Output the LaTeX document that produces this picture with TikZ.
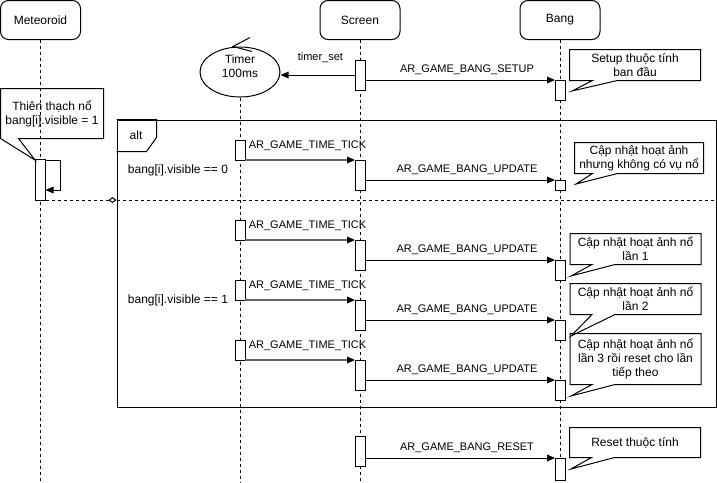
\documentclass[tikz,border=0pt]{standalone}
\usepackage{fontspec}
\setmainfont{Liberation Sans}
\usetikzlibrary{arrows.meta,calc,shapes.geometric}
\newcommand{\notepath}[4]{%
  \draw (#1.south west) -- (#1.north west) -- (#1.north east) -- (#1.south east)
    -- ($(#1.south west)+(#4,0)$) -- (#2) -- ($(#1.south west)+(#3,0)$) -- cycle;}
\begin{document}
\begin{tikzpicture}[x=0.75pt,y=-0.75pt,line width=0.75pt,
  txt/.style={font=\fontsize{9}{10.5}\selectfont},
  etxt/.style={font=\fontsize{8.25}{10}\selectfont},
  head/.style={txt,draw,rounded corners=6pt,minimum width=60pt,minimum height=29.25pt,inner sep=0},
  act/.style={draw,fill=white,minimum width=7.5pt,minimum height={#1*0.75pt},inner sep=0,outer sep=0},
  life/.style={dash pattern=on 2.25pt off 2.25pt},
  msg/.style={-{Triangle[length=6pt,width=5pt]}},
  tick/.style={-{Triangle[length=6pt,width=5pt,color=black]},draw=black!60,line width=1.1pt},
  lbl/.style={txt,inner sep=1pt},
  elbl/.style={etxt,inner sep=1pt},
  note/.style={txt,align=center,inner sep=0,minimum width={#1*0.75pt}},
  notebox/.style={note=130}
]
\useasboundingbox (0,0) rectangle (717,482);
% heads
\node[head] (met) at (40.5,20) {Meteoroid};
\node[head] (scr) at (360,20) {Screen};
\node[head] (bang) at (560,20) {Bang};
\node[draw,ellipse,minimum width=60pt,minimum height=37.5pt,inner sep=0] (timer) at (240,72) {};
\node[lbl,align=center] (timerlbl) at (240,66) {Timer\\100ms};
\draw ($(timer.north)+(10,-9)$) -- ($(timer.north)+(-7,0)$) -- ($(timer.north)+(12,5)$);
% lifelines
\coordinate (bot) at (0,482);
\draw[life] (met.south) -- (met.south |- bot);
\draw[life] (scr.south) -- (scr.south |- bot);
\draw[life] (bang.south) -- (bang.south |- bot);
\draw[life] (timer.south) -- (timer.south |- bot);
% alt frame
\node[draw,minimum width={599*0.75pt},minimum height={287*0.75pt},inner sep=0] (alt) at (416.5,263.5) {};
\draw (alt.north west) -- ++(40,0) -- ++(0,18) -- ++(-10,14) -- ++(-30,0);
\node[lbl] (altlbl) at (136,135) {alt};
\node[lbl] (c0) at (178,170) {bang[i].visible == 0};
\node[lbl] (c1) at (178,300) {bang[i].visible == 1};
% activations
\node[act=41] (m0) at (40.5,179.5) {};
\node[act=30] (s0) at (360,75) {};
\node[act=20] (b0) at (560,90) {};
\node[act=20] (t1) at (240,150) {};
\node[act=30] (s1) at (360,175) {};
\node[act=10] (b1) at (560,185) {};
\node[act=20] (t2) at (240,230) {};
\node[act=30] (s2) at (360,255) {};
\node[act=20] (b2) at (560,270) {};
\node[act=20] (t3) at (240,290) {};
\node[act=30] (s3) at (360,315) {};
\node[act=20] (b3) at (560,330) {};
\node[act=20] (t4) at (240,350) {};
\node[act=30] (s4) at (360,375) {};
\node[act=20] (b4) at (560,390) {};
\node[act=30] (s5) at (360,451) {};
\node[act=22] (b5) at (560,469) {};
% divider and meteoroid link
\draw[dash pattern=on 2.25pt off 2.25pt] (alt.west |- m0.south) -- (alt.east |- m0.south);
\draw[dash pattern=on 2.25pt off 2.25pt,-{Diamond[open,length=6pt,width=4.5pt]}] (m0.south east) -- (alt.west |- m0.south east);
\draw[msg] ($(m0.north east)+(0,1)$) -- ++(15,0) |- ($(m0.south east)+(0,-10)$);
% messages
\draw[msg] (s0.west) -- (timer.east |- s0.west) node[elbl,midway,above=7.75pt,xshift=2pt] {timer\_set};
\draw[msg] (s0.east |- b0.north) -- (b0.north west) node[elbl,midway,above=2.5pt,xshift=5.25pt] {AR\_GAME\_BANG\_SETUP};
\foreach \t/\s/\b in {t1/s1/b1,t2/s2/b2,t3/s3/b3,t4/s4/b4}{
  \draw[tick] (\t.south east) -- (\s.north west);
  \node[elbl,anchor=west] at ($(\t.east)+(2,-4)$) {AR\_GAME\_TIME\_TICK};
  \draw[msg] (\s.east |- \b.north) -- (\b.north west) node[elbl,midway,above=2.5pt,xshift=5.25pt] {AR\_GAME\_BANG\_UPDATE};
}
\draw[msg] (s5.east |- b5.north) -- (b5.north west) node[elbl,midway,above=2.5pt,xshift=5.25pt] {AR\_GAME\_BANG\_RESET};
% notes
\coordinate (tm) at (35,160);
\node[note=102,minimum height={49*0.75pt}] (nm) at (52,113.5) {Thiên thạch nổ\\bang[i].visible = 1};
\notepath{nm}{tm}{0}{18}
\coordinate (tp0) at (572,91);
\node[notebox,minimum height={30*0.75pt}] (n0) at (635,65) {Setup thuộc tính\\ban đầu};
\notepath{n0}{tp0}{23}{48}
\coordinate (tp1) at (576,184);
\node[note=128,minimum height={30*0.75pt}] (n1) at (639,158) {Cập nhật hoạt ảnh\\nhưng không có vụ nổ};
\notepath{n1}{tp1}{18}{43}
\coordinate (tp2) at (571,276);
\node[notebox,minimum height={30*0.75pt}] (n2) at (635.5,249) {Cập nhật hoạt ảnh nổ\\lần 1};
\notepath{n2}{tp2}{22}{45}
\coordinate (tp3) at (571,336);
\node[notebox,minimum height={30*0.75pt}] (n3) at (635.5,299) {Cập nhật hoạt ảnh nổ\\lần 2};
\notepath{n3}{tp3}{22}{45}
\coordinate (tp4) at (571,396);
\node[notebox,minimum height={50*0.75pt}] (n4) at (635.5,359) {Cập nhật hoạt ảnh nổ\\lần 3 rồi reset cho lần\\tiếp theo};
\notepath{n4}{tp4}{22}{45}
\coordinate (tp5) at (571,469);
\node[notebox,minimum height={29*0.75pt}] (n5) at (635,442.5) {Reset thuộc tính};
\notepath{n5}{tp5}{22}{45}
\end{tikzpicture}
\end{document}
